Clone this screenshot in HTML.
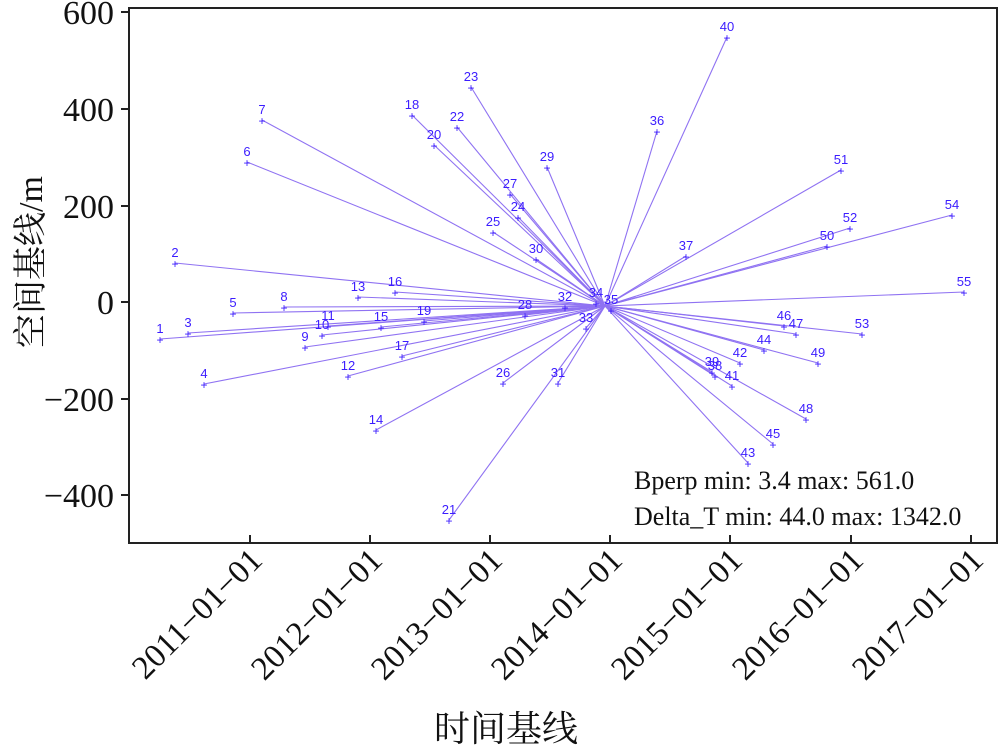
<!DOCTYPE html>
<html><head><meta charset="utf-8"><style>body{margin:0;background:#fff}svg{display:block}</style></head>
<body>
<svg width="1000" height="747" xmlns="http://www.w3.org/2000/svg" font-family="Liberation Serif, serif">
<g stroke="#8f72f2" stroke-width="1.1" fill="none">
<line x1="605" y1="306" x2="160" y2="339"/><line x1="605" y1="306" x2="175" y2="263"/><line x1="605" y1="306" x2="188" y2="333"/><line x1="605" y1="306" x2="204" y2="384"/><line x1="605" y1="306" x2="233" y2="313"/><line x1="605" y1="306" x2="247" y2="162"/><line x1="605" y1="306" x2="262" y2="120"/><line x1="605" y1="306" x2="284" y2="307"/><line x1="605" y1="306" x2="305" y2="347"/><line x1="605" y1="306" x2="322" y2="335"/><line x1="605" y1="306" x2="328" y2="326"/><line x1="605" y1="306" x2="348" y2="376"/><line x1="605" y1="306" x2="358" y2="297"/><line x1="605" y1="306" x2="376" y2="430"/><line x1="605" y1="306" x2="381" y2="327"/><line x1="605" y1="306" x2="395" y2="292"/><line x1="605" y1="306" x2="402" y2="356"/><line x1="605" y1="306" x2="412" y2="115"/><line x1="605" y1="306" x2="424" y2="321"/><line x1="605" y1="306" x2="434" y2="145"/><line x1="605" y1="306" x2="449" y2="520"/><line x1="605" y1="306" x2="457" y2="127"/><line x1="605" y1="306" x2="471" y2="87"/><line x1="605" y1="306" x2="518" y2="217"/><line x1="605" y1="306" x2="493" y2="232"/><line x1="605" y1="306" x2="503" y2="383"/><line x1="605" y1="306" x2="510" y2="194"/><line x1="605" y1="306" x2="525" y2="315"/><line x1="605" y1="306" x2="547" y2="167"/><line x1="605" y1="306" x2="536" y2="259"/><line x1="605" y1="306" x2="558" y2="383"/><line x1="605" y1="306" x2="565" y2="307"/><line x1="605" y1="306" x2="586" y2="328"/><line x1="605" y1="306" x2="596" y2="303"/><line x1="605" y1="306" x2="611" y2="310"/><line x1="605" y1="306" x2="657" y2="131"/><line x1="605" y1="306" x2="686" y2="256"/><line x1="605" y1="306" x2="715" y2="376"/><line x1="605" y1="306" x2="712" y2="372"/><line x1="605" y1="306" x2="727" y2="37"/><line x1="605" y1="306" x2="732" y2="386"/><line x1="605" y1="306" x2="740" y2="363"/><line x1="605" y1="306" x2="748" y2="463"/><line x1="605" y1="306" x2="764" y2="350"/><line x1="605" y1="306" x2="773" y2="444"/><line x1="605" y1="306" x2="784" y2="326"/><line x1="605" y1="306" x2="796" y2="334"/><line x1="605" y1="306" x2="806" y2="419"/><line x1="605" y1="306" x2="818" y2="363"/><line x1="605" y1="306" x2="827" y2="246"/><line x1="605" y1="306" x2="841" y2="170"/><line x1="605" y1="306" x2="850" y2="228"/><line x1="605" y1="306" x2="862" y2="334"/><line x1="605" y1="306" x2="952" y2="215"/><line x1="605" y1="306" x2="964" y2="292"/>
</g>
<g fill="#3b1cff" font-family="Liberation Sans, sans-serif" font-size="13" text-anchor="middle">
<text x="160" y="333">1</text><text x="175" y="257">2</text><text x="188" y="327">3</text><text x="204" y="378">4</text><text x="233" y="307">5</text><text x="247" y="156">6</text><text x="262" y="114">7</text><text x="284" y="301">8</text><text x="305" y="341">9</text><text x="322" y="329">10</text><text x="328" y="320">11</text><text x="348" y="370">12</text><text x="358" y="291">13</text><text x="376" y="424">14</text><text x="381" y="321">15</text><text x="395" y="286">16</text><text x="402" y="350">17</text><text x="412" y="109">18</text><text x="424" y="315">19</text><text x="434" y="139">20</text><text x="449" y="514">21</text><text x="457" y="121">22</text><text x="471" y="81">23</text><text x="518" y="211">24</text><text x="493" y="226">25</text><text x="503" y="377">26</text><text x="510" y="188">27</text><text x="525" y="309">28</text><text x="547" y="161">29</text><text x="536" y="253">30</text><text x="558" y="377">31</text><text x="565" y="301">32</text><text x="586" y="322">33</text><text x="596" y="297">34</text><text x="611" y="304">35</text><text x="657" y="125">36</text><text x="686" y="250">37</text><text x="715" y="370">38</text><text x="712" y="366">39</text><text x="727" y="31">40</text><text x="732" y="380">41</text><text x="740" y="357">42</text><text x="748" y="457">43</text><text x="764" y="344">44</text><text x="773" y="438">45</text><text x="784" y="320">46</text><text x="796" y="328">47</text><text x="806" y="413">48</text><text x="818" y="357">49</text><text x="827" y="240">50</text><text x="841" y="164">51</text><text x="850" y="222">52</text><text x="862" y="328">53</text><text x="952" y="209">54</text><text x="964" y="286">55</text>
</g>
<g fill="#3b1cff" font-family="Liberation Sans, sans-serif" font-size="12" text-anchor="middle">
<text x="160" y="344">+</text><text x="175" y="268">+</text><text x="188" y="338">+</text><text x="204" y="389">+</text><text x="233" y="318">+</text><text x="247" y="167">+</text><text x="262" y="125">+</text><text x="284" y="312">+</text><text x="305" y="352">+</text><text x="322" y="340">+</text><text x="328" y="331">+</text><text x="348" y="381">+</text><text x="358" y="302">+</text><text x="376" y="435">+</text><text x="381" y="332">+</text><text x="395" y="297">+</text><text x="402" y="361">+</text><text x="412" y="120">+</text><text x="424" y="326">+</text><text x="434" y="150">+</text><text x="449" y="525">+</text><text x="457" y="132">+</text><text x="471" y="92">+</text><text x="518" y="222">+</text><text x="493" y="237">+</text><text x="503" y="388">+</text><text x="510" y="199">+</text><text x="525" y="320">+</text><text x="547" y="172">+</text><text x="536" y="264">+</text><text x="558" y="388">+</text><text x="565" y="312">+</text><text x="586" y="333">+</text><text x="596" y="308">+</text><text x="611" y="315">+</text><text x="657" y="136">+</text><text x="686" y="261">+</text><text x="715" y="381">+</text><text x="712" y="377">+</text><text x="727" y="42">+</text><text x="732" y="391">+</text><text x="740" y="368">+</text><text x="748" y="468">+</text><text x="764" y="355">+</text><text x="773" y="449">+</text><text x="784" y="331">+</text><text x="796" y="339">+</text><text x="806" y="424">+</text><text x="818" y="368">+</text><text x="827" y="251">+</text><text x="841" y="175">+</text><text x="850" y="233">+</text><text x="862" y="339">+</text><text x="952" y="220">+</text><text x="964" y="297">+</text>
</g>
<rect x="129" y="8" width="868" height="535" fill="none" stroke="#222" stroke-width="2"/>
<g stroke="#222" stroke-width="2">
<line x1="121" y1="12" x2="129" y2="12"/><line x1="121" y1="109" x2="129" y2="109"/><line x1="121" y1="206" x2="129" y2="206"/><line x1="121" y1="302" x2="129" y2="302"/><line x1="121" y1="399" x2="129" y2="399"/><line x1="121" y1="495" x2="129" y2="495"/>
<line x1="250" y1="543" x2="250" y2="535"/><line x1="370" y1="543" x2="370" y2="535"/><line x1="490" y1="543" x2="490" y2="535"/><line x1="610" y1="543" x2="610" y2="535"/><line x1="730" y1="543" x2="730" y2="535"/><line x1="851" y1="543" x2="851" y2="535"/><line x1="971" y1="543" x2="971" y2="535"/>
</g>
<g font-size="34" text-anchor="end" fill="#111">
<text x="114" y="24">600</text><text x="114" y="121">400</text><text x="114" y="218">200</text><text x="114" y="314">0</text><text x="114" y="411">−200</text><text x="114" y="507">−400</text>
</g>
<g font-size="33" text-anchor="end" fill="#111">
<text transform="translate(264,562) rotate(-45)">2011−01−01</text>
<text transform="translate(384,562) rotate(-45)">2012−01−01</text>
<text transform="translate(504,562) rotate(-45)">2013−01−01</text>
<text transform="translate(624,562) rotate(-45)">2014−01−01</text>
<text transform="translate(744,562) rotate(-45)">2015−01−01</text>
<text transform="translate(865,562) rotate(-45)">2016−01−01</text>
<text transform="translate(985,562) rotate(-45)">2017−01−01</text>
</g>
<text x="506" y="741" font-size="36" text-anchor="middle" font-family="Liberation Serif, Noto Serif CJK SC, serif" fill="#111">时间基线</text>
<text transform="translate(42,262) rotate(-90)" font-size="34" text-anchor="middle" font-family="Liberation Serif, Noto Serif CJK SC, serif" fill="#111">空间基线/m</text>
<g font-size="26" fill="#111"><text x="634" y="489">Bperp min: 3.4 max: 561.0</text><text x="634" y="525">Delta_T min: 44.0 max: 1342.0</text></g>
</svg>
</body></html>
